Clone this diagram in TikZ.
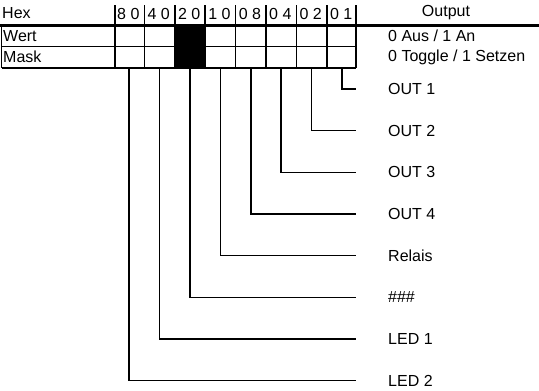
\documentclass[tikz,border=0pt]{standalone}
\usepackage{fontspec}
\setmainfont{Liberation Sans}
\begin{document}
\begin{tikzpicture}[x=1pt,y=-1pt,
  thin line/.style={line width=1.5pt},
  thick line/.style={line width=2.6pt},
  lbl/.style={anchor=west,inner sep=0pt,font=\fontsize{16}{18}\selectfont},
  hexlbl/.style={anchor=west,inner sep=0pt,font=\fontsize{16}{18}\selectfont},
  conn/.style={line width=1.5pt}]
\useasboundingbox (0,0) rectangle (539,391);
% black cell
\fill (174.8,25) rectangle (205.2,68);
% header texts
\node[lbl] (hex) at (2,13) {Hex};
\node[anchor=center,inner sep=0pt,font=\fontsize{16}{18}\selectfont] (out) at (446,13) {Output};
\foreach \t [count=\i from 0] in {8 0,4 0,2 0,1 0,0 8,0 4,0 2,0 1}{
  \node[hexlbl] (h\i) at (117+30.4*\i,14) {\t};
}
% rows
\node[lbl] (wert) at (3,36) {Wert};
\node[lbl] (mask) at (3,57) {Mask};
\node[lbl] (wertout) at (388,36) {0 Aus / 1 An};
\node[lbl] (maskout) at (388,57) {0 Toggle / 1 Setzen};
% grid
\draw[thin line] (1.5,25) -- (1.5,68);
\draw[thin line] (1.5,46.7) -- (356,46.7);
\draw[thin line] (1.5,68) -- (356,68);
\foreach \k in {1,...,7}{
  \draw[thin line] (114+30.4*\k,5) -- (114+30.4*\k,68);
}
\draw[thick line] (115,5) -- (115,68);
\draw[thick line] (356,5) -- (356,68);
\draw[thick line] (0,25.5) -- (539,25.5);
% connectors
\foreach \k/\y/\t [count=\n] in {7/89/OUT 1,6/130.7/OUT 2,5/172.3/OUT 3,4/214/OUT 4,3/255.7/Relais,2/297.3/\#\#\#,1/339/LED 1,0/380.7/LED 2}{
  \coordinate (b\n) at (129.2+30.4*\k,68);
  \coordinate (e\n) at (356,\y);
  \node[lbl] (o\n) at (388,\y) {\t};
  \draw[conn] (b\n) |- (e\n);
}
\end{tikzpicture}
\end{document}
